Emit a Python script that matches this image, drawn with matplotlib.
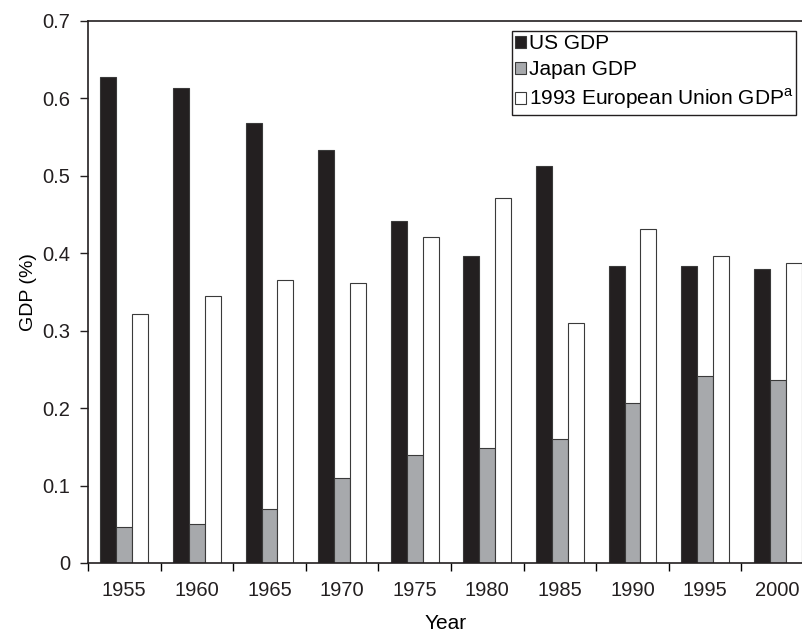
import matplotlib
matplotlib.use('Agg')
import matplotlib.pyplot as plt
import numpy as np
from matplotlib.ticker import FixedLocator, FuncFormatter

plt.rcParams['font.family'] = ['Liberation Sans', 'DejaVu Sans']

years = ['1955', '1960', '1965', '1970', '1975', '1980', '1985', '1990', '1995', '2000']
us_gdp = [0.628, 0.613, 0.568, 0.533, 0.442, 0.397, 0.513, 0.383, 0.383, 0.380]
japan_gdp = [0.047, 0.050, 0.070, 0.110, 0.140, 0.149, 0.160, 0.207, 0.241, 0.236]
eu_gdp = [0.321, 0.345, 0.366, 0.362, 0.421, 0.472, 0.310, 0.432, 0.396, 0.387]
labels = ['US GDP', 'Japan GDP', '1993 European Union GDP$^{\\mathregular{a}}$']

fs = 14.5
fig = plt.figure(figsize=(8.03, 6.33), dpi=100)
ax = fig.add_axes([88 / 803, 70 / 633, 715 / 803, 542 / 633])

x = np.arange(len(years))
w = 0.22
edge = '#3a3a3a'
ax.bar(x - w, us_gdp, w, color='#231f20', edgecolor=edge, linewidth=0.8, label=labels[0])
ax.bar(x, japan_gdp, w, color='#a7a9ac', edgecolor=edge, linewidth=0.8, label=labels[1])
ax.bar(x + w, eu_gdp, w, color='white', edgecolor=edge, linewidth=0.8, label=labels[2])

ax.set_xlim(-0.5, -0.5 + 715 / 72.6)
ax.set_ylim(0, 0.7)
ax.set_yticks(np.arange(0, 0.71, 0.1))
ax.yaxis.set_major_formatter(FuncFormatter(lambda v, p: '0' if abs(v) < 1e-9 else f'{v:.1f}'))

# labels at group centres, tick marks between groups
ax.set_xticks(x)
ax.set_xticklabels(years)
ax.tick_params(axis='x', which='major', length=0, pad=13)
ax.xaxis.set_minor_locator(FixedLocator(np.arange(-0.5, 10, 1.0)))
ax.tick_params(axis='x', which='minor', length=6, width=1, direction='out')
ax.tick_params(axis='y', length=6, width=1, direction='out', pad=7)
ax.tick_params(labelsize=fs, colors='#231f20')

ax.spines['right'].set_visible(False)
for s in ['left', 'bottom', 'top']:
    ax.spines[s].set_linewidth(1.2)
    ax.spines[s].set_color('#231f20')

ax.set_ylabel('GDP (%)', fontsize=14)
ax.yaxis.set_label_coords(-0.072, 0.5)
ax.set_xlabel('Year', fontsize=15, labelpad=10)

leg = ax.legend(loc='upper left', bbox_to_anchor=(512 / 803, 1 - 31 / 633),
                bbox_transform=fig.transFigure, fontsize=15, frameon=True,
                fancybox=False, framealpha=1, edgecolor='#231f20',
                handlelength=0.5, handleheight=0.5, handletextpad=0.15,
                labelspacing=0.35, borderpad=0.15, borderaxespad=0)
leg.get_frame().set_linewidth(1.0)

fig.savefig('out.png', dpi=100)
